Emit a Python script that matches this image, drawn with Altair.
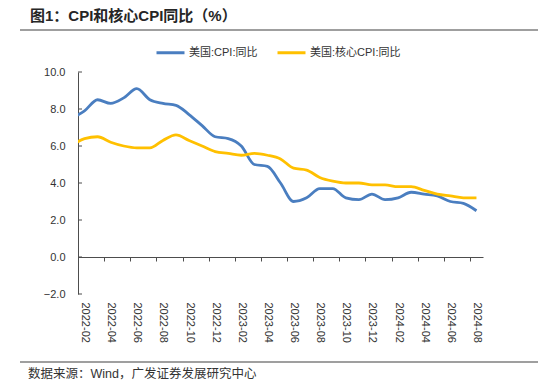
import json
import altair as alt
import pandas as pd

# ---------------- data ----------------
months = [
    "2022-01", "2022-02", "2022-03", "2022-04", "2022-05", "2022-06", "2022-07", "2022-08",
    "2022-09", "2022-10", "2022-11", "2022-12",
    "2023-01", "2023-02", "2023-03", "2023-04", "2023-05", "2023-06", "2023-07", "2023-08",
    "2023-09", "2023-10", "2023-11", "2023-12",
    "2024-01", "2024-02", "2024-03", "2024-04", "2024-05", "2024-06", "2024-07", "2024-08",
]
cpi = [7.5, 7.9, 8.5, 8.3, 8.6, 9.1, 8.5, 8.3, 8.2, 7.7, 7.1, 6.5,
       6.4, 6.0, 5.0, 4.9, 4.0, 3.0, 3.2, 3.7, 3.7, 3.2, 3.1, 3.4,
       3.1, 3.2, 3.5, 3.4, 3.3, 3.0, 2.9, 2.5]
core_cpi = [6.0, 6.4, 6.5, 6.2, 6.0, 5.9, 5.9, 6.3, 6.6, 6.3, 6.0, 5.7,
            5.6, 5.5, 5.6, 5.5, 5.3, 4.8, 4.7, 4.3, 4.1, 4.0, 4.0, 3.9,
            3.9, 3.8, 3.8, 3.6, 3.4, 3.3, 3.2, 3.2]
series_names = ["美国:CPI:同比", "美国:核心CPI:同比"]
series_colors = ["#4A7EC0", "#FFC000"]
y_ticks = [-2, 0, 2, 4, 6, 8, 10]
x_labels = months[1::2]  # 2022-02 ... 2024-08
title_text = "图1：CPI和核心CPI同比（%）"
source_text = "数据来源：Wind，广发证券发展研究中心"

# ---------------- layout ----------------
W, H = 405, 222
n_cat = len(months) - 1          # categories shown: 2022-02 .. 2024-08
step = W / n_cat
axis_color = "#4d4d4d"
text_color = "#333333"
sep_color = "#7f7f7f"
latin_cjk = "Liberation Sans, Arial, Noto Sans CJK SC"

rows = []
for i, m in enumerate(months):
    rows.append({"idx": i - 1, "month": m, "series": series_names[0], "value": cpi[i]})
    rows.append({"idx": i - 1, "month": m, "series": series_names[1], "value": core_cpi[i]})
df = pd.DataFrame(rows)

x_scale = alt.Scale(domain=[-0.5, n_cat - 0.5], nice=False, zero=False)
y_scale = alt.Scale(domain=[-2, 10], nice=False, zero=False)

x_axis = alt.Axis(
    values=list(range(0, n_cat, 2)),
    labelExpr=json.dumps(x_labels, ensure_ascii=False) + "[datum.value / 2]",
    title=None,
    orient="bottom",
    offset=-(H * 2 / 12),
    grid=False,
    tickSize=4,
    tickColor=axis_color,
    domainColor=axis_color,
    tickOffset=-step / 2,
    labelOffset=step / 2,
    labelAngle=90,
    labelPadding=41,
    labelFont="Liberation Sans",
    labelFontSize=11,
    labelColor=text_color,
    labelOverlap=False,
    labelFlush=False,
)
y_axis = alt.Axis(
    values=y_ticks,
    format=".1f",
    title=None,
    grid=False,
    ticks=False,
    domainColor=axis_color,
    labelPadding=13,
    labelFont="Liberation Sans",
    labelFontSize=11,
    labelColor=text_color,
)

lines = alt.Chart(df).mark_line(interpolate="monotone", strokeWidth=2.8, clip=True).encode(
    x=alt.X("idx:Q", scale=x_scale, axis=x_axis),
    y=alt.Y("value:Q", scale=y_scale, axis=y_axis),
    color=alt.Color(
        "series:N",
        scale=alt.Scale(domain=series_names, range=series_colors),
        sort=series_names,
        legend=alt.Legend(
            title=None,
            orient="none",
            legendX=77,
            legendY=-35,
            direction="horizontal",
            symbolType="stroke",
            symbolSize=784,
            symbolStrokeWidth=3,
            labelFont=latin_cjk,
            labelFontSize=11,
            labelColor=text_color,
            labelOffset=3,
            columnPadding=13,
        ),
    ),
)

ytick_rules = alt.Chart(pd.DataFrame({"v": y_ticks})).mark_rule(
    color=axis_color, strokeWidth=1
).encode(
    y=alt.Y("v:Q", scale=y_scale, axis=y_axis),
    x=alt.value(0),
    x2=alt.value(4),
)

title = alt.Chart(pd.DataFrame({"t": [title_text]})).mark_text(
    align="left", baseline="middle", font=latin_cjk, fontSize=15, fontWeight="bold", color="#262626"
).encode(text="t:N", x=alt.value(-48), y=alt.value(-56))

src = alt.Chart(pd.DataFrame({"t": [source_text]})).mark_text(
    align="left", baseline="middle", font=latin_cjk, fontSize=12.5, color=text_color
).encode(text="t:N", x=alt.value(-50), y=alt.value(302))

top_sep = alt.Chart(pd.DataFrame({"k": [0]})).mark_rule(color=sep_color, strokeWidth=1.4).encode(
    x=alt.value(-58), x2=alt.value(460), y=alt.value(-42)
)
bottom_sep = alt.Chart(pd.DataFrame({"k": [1]})).mark_rule(color=sep_color, strokeWidth=1.4).encode(
    x=alt.value(-58), x2=alt.value(460), y=alt.value(290)
)

chart = alt.layer(lines, ytick_rules, title, src, top_sep, bottom_sep).properties(
    width=W,
    height=H,
    autosize=alt.AutoSizeParams(type="none"),
    padding={"left": 70, "top": 64, "right": 59, "bottom": 86},
    background="white",
).configure_view(stroke=None)

chart.save("out.html", embed_options={"renderer": "svg", "actions": False})
